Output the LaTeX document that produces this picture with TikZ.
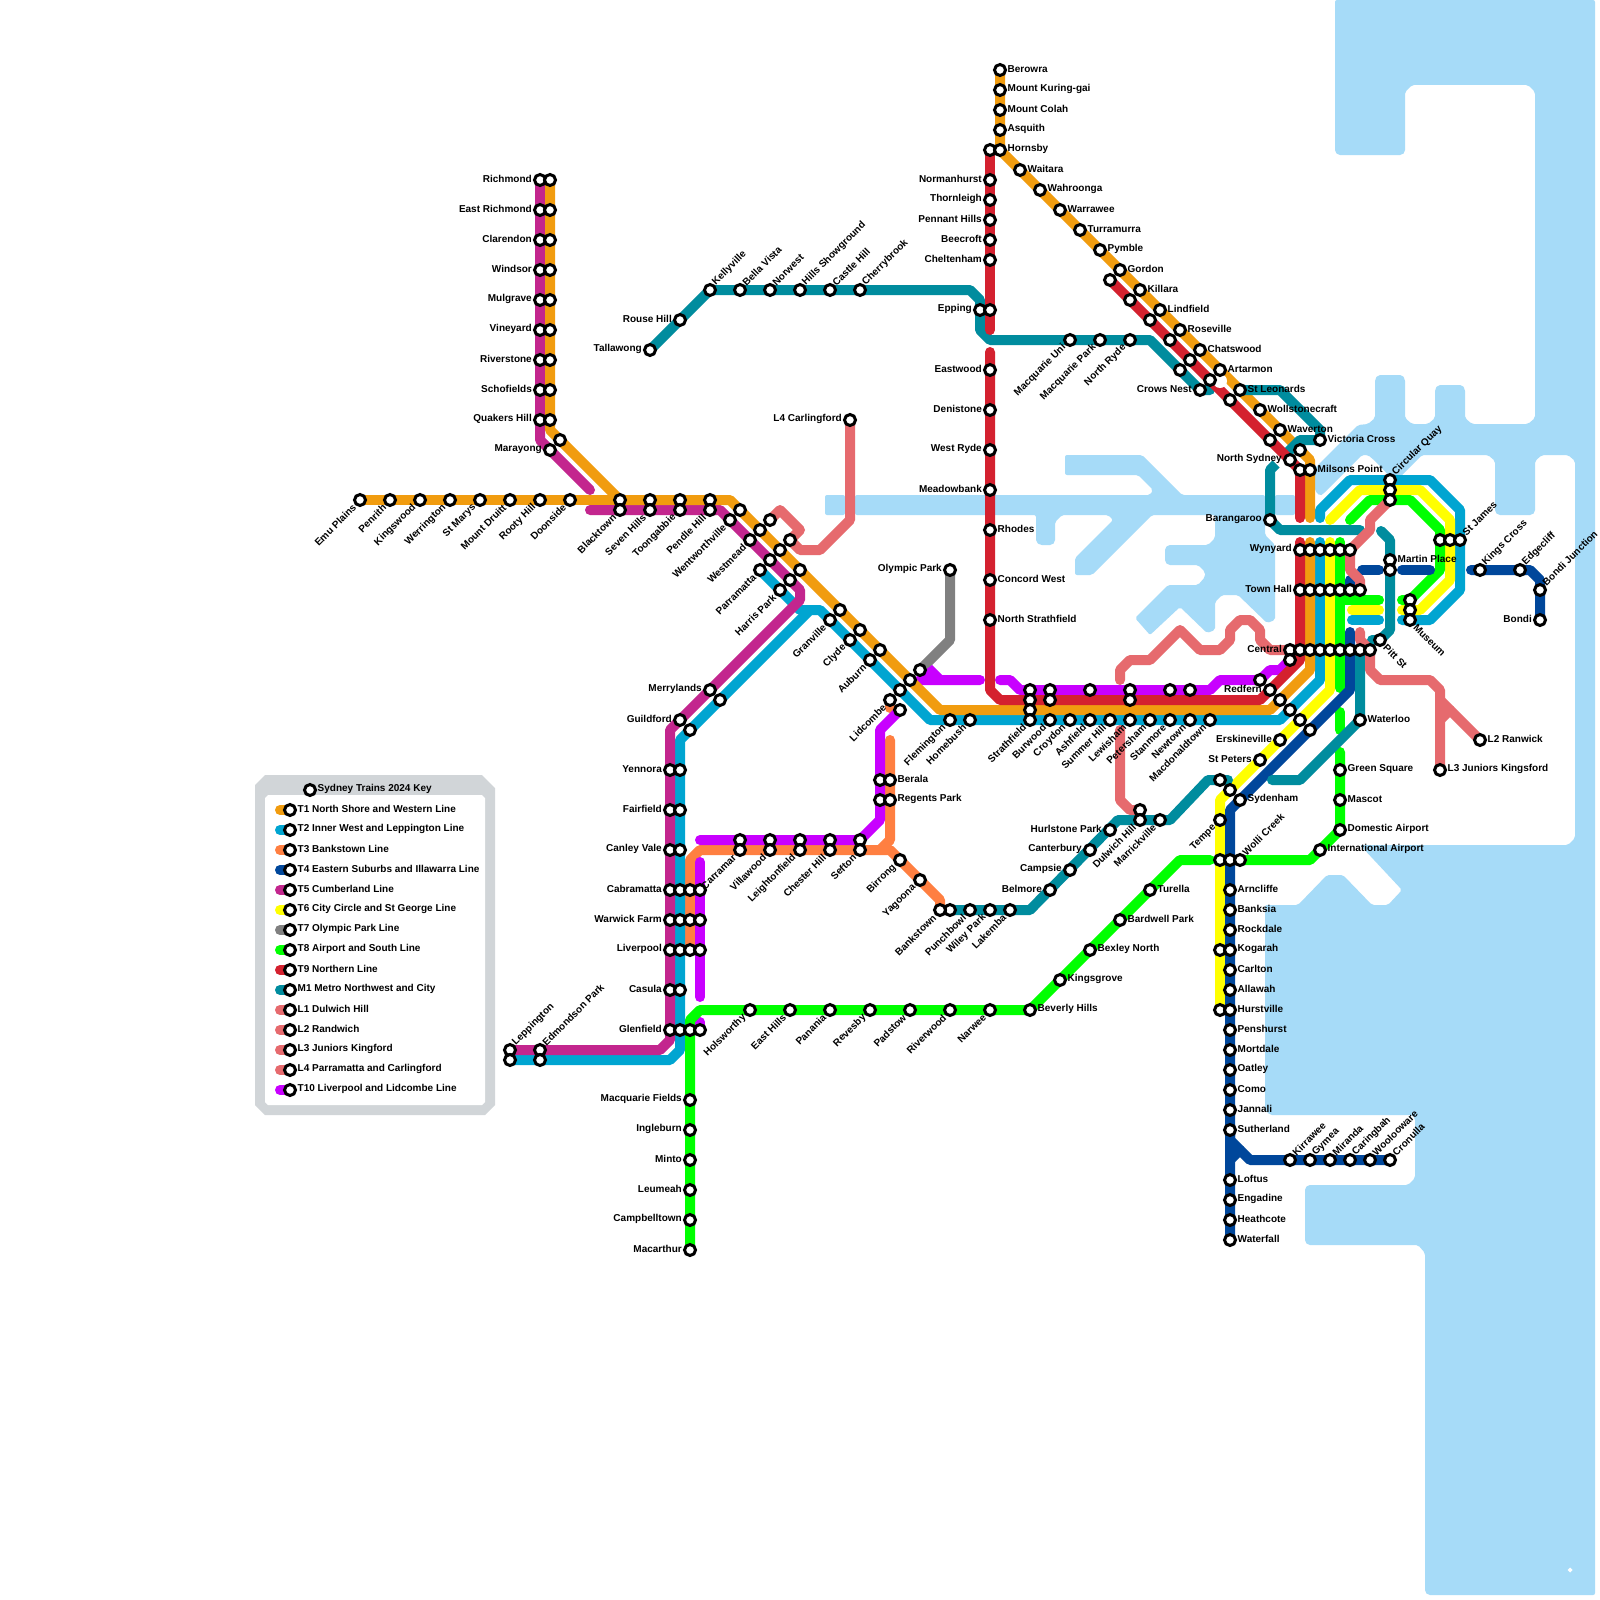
\documentclass[tikz,border=0pt]{standalone}
\usepackage{fontspec}
\setmainfont{Liberation Sans}
\definecolor{cT1}{HTML}{F19C0F}
\definecolor{cT2}{HTML}{00A5D1}
\definecolor{cT3}{HTML}{FF7F41}
\definecolor{cT4}{HTML}{00479B}
\definecolor{cT5}{HTML}{C3268E}
\definecolor{cT6}{HTML}{FFFF00}
\definecolor{cT7}{HTML}{808080}
\definecolor{cT8}{HTML}{00FF00}
\definecolor{cT9}{HTML}{D4212F}
\definecolor{cM1}{HTML}{008C9E}
\definecolor{cLL}{HTML}{E66A6E}
\definecolor{cTX}{HTML}{C800FF}
\definecolor{cWater}{HTML}{A6DBF8}
\definecolor{cKey}{HTML}{D1D5D8}
\pgfdeclarelayer{waterlayer}
\pgfdeclarelayer{linelayer}
\pgfsetlayers{waterlayer,linelayer,main}
\tikzset{
  stn/.style={circle,draw=black,fill=white,line width=3pt,minimum size=11pt,inner sep=0pt},
  lb/.style={inner sep=0pt,font=\fontsize{10}{12}\selectfont\bfseries,text=black},
  lbR/.style={lb,anchor=west},
  lbL/.style={lb,anchor=east},
  lbU/.style={lb,anchor=west,rotate=45},
  lbD/.style={lb,anchor=east,rotate=45},
  lbE/.style={lb,anchor=west,rotate=-45},
  rail/.style={line width=10pt,line cap=round,line join=round},
  waterpart/.style={fill=cWater,rounded corners=2pt},
}
\newcommand{\sN}[3]{\node[stn] (#1) at (#2,#3) {};}
\newcommand{\sR}[4]{\node[stn] (#1) at (#2,#3) {};\node[lbR] (#1t) at ([xshift=7.5pt,yshift=0.8pt]#1.center) {#4};}
\newcommand{\sL}[4]{\node[stn] (#1) at (#2,#3) {};\node[lbL] (#1t) at ([xshift=-8pt,yshift=0.8pt]#1.center) {#4};}
\newcommand{\sU}[4]{\node[stn] (#1) at (#2,#3) {};\node[lbU] (#1t) at ([xshift=4pt,yshift=6pt]#1.center) {#4};}
\newcommand{\sD}[4]{\node[stn] (#1) at (#2,#3) {};\node[lbD] (#1t) at ([xshift=-5.5pt,yshift=-6pt]#1.center) {#4};}
\newcommand{\sE}[4]{\node[stn] (#1) at (#2,#3) {};\node[lbE] (#1t) at ([xshift=5pt,yshift=-6pt]#1.center) {#4};}
\begin{document}
\begin{tikzpicture}[x=1pt,y=-1pt]
\useasboundingbox (0,0) rectangle (1600,1600);
% ---------- water
\begin{pgfonlayer}{waterlayer}
\fill[white] (0,0) rectangle (1600,1600);
\fill[waterpart] (1335,0) -- (1595,0) -- (1595,1595) -- (1428,1595) -- (1425,1592) -- (1425,1253) -- (1418,1245) -- (1308,1245) -- (1305,1242) -- (1305,1188) -- (1308,1185) -- (1408,1185) -- (1415,1178) -- (1415,1118) -- (1412,1115) -- (1270,1115) -- (1265,1110) -- (1265,905) -- (1298,905) -- (1327,875) -- (1343,875) -- (1372,905) -- (1388,905) -- (1402,890) -- (1360,845) -- (1568,845) -- (1575,838) -- (1575,461) -- (1568,455) -- (1542,455) -- (1535,461) -- (1535,512) -- (1532,515) -- (1498,515) -- (1495,512) -- (1495,461) -- (1488,455) -- (1422,455) -- (1395,482) -- (1375,461) -- (1368,455) -- (1362,455) -- (1323,494) -- (1320,496) -- (1315,491) -- (1315,468) -- (1358,425) -- (1368,424) -- (1375,418) -- (1375,379) -- (1378,375) -- (1402,375) -- (1405,379) -- (1405,418) -- (1412,424) -- (1428,424) -- (1435,418) -- (1435,389) -- (1438,385) -- (1462,385) -- (1465,389) -- (1465,418) -- (1472,424) -- (1528,424) -- (1535,418) -- (1535,92) -- (1528,85) -- (1412,85) -- (1405,92) -- (1405,152) -- (1402,155) -- (1338,155) -- (1335,152) -- cycle;
\fill[waterpart] (1065,455) -- (1142,455) -- (1182,495) -- (1265,495) -- (1265,535) -- (1275,545) -- (1275,620) -- (1267,623) -- (1238,595) -- (1222,595) -- (1215,602) -- (1215,630) -- (1207,633) -- (1180,607) -- (1150,635) -- (1135,618) -- (1168,585) -- (1198,585) -- (1205,577) -- (1205,572) -- (1198,565) -- (1168,565) -- (1165,562) -- (1165,548) -- (1168,545) -- (1208,545) -- (1215,538) -- (1215,515) -- (1152,515) -- (1092,575) -- (1075,575) -- (1075,558) -- (1113,520) -- (1108,515) -- (1062,515) -- (1055,522) -- (1055,542) -- (1052,545) -- (1040,545) -- (1036,542) -- (1036,515) -- (855,515) -- (855,495) -- (1150,495) -- (1153,490) -- (1138,475) -- (1065,475) -- cycle;
\fill[waterpart] (825,495) rectangle (845,515);
\fill[waterpart] (1275,495) rectangle (1295,515);
\fill[white] (1570,1567.5) -- (1572.5,1570) -- (1570,1572.5) -- (1567.5,1570) -- cycle;
% ---------- key panel
\fill[cKey] (255,785) -- (265,775) -- (482,775) -- (495,788) -- (495,1105) -- (485,1115) -- (265,1115) -- (255,1105) -- cycle;
\fill[white] (265,798) -- (268,795) -- (482,795) -- (485,798) -- (485,1102) -- (482,1105) -- (268,1105) -- (265,1102) -- cycle;
\end{pgfonlayer}
% ---------- stations
% Richmond branch
\sL{ric}{540}{180}{Richmond}\sN{rica}{550}{180}
\sL{eri}{540}{210}{East Richmond}\sN{eria}{550}{210}
\sL{cla}{540}{240}{Clarendon}\sN{claa}{550}{240}
\sL{win}{540}{270}{Windsor}\sN{wina}{550}{270}
\sL{mul}{540}{300}{Mulgrave}\sN{mula}{550}{300}
\sL{vin}{540}{330}{Vineyard}\sN{vina}{550}{330}
\sL{riv}{540}{360}{Riverstone}\sN{riva}{550}{360}
\sL{sch}{540}{390}{Schofields}\sN{scha}{550}{390}
\sL{qua}{540}{420}{Quakers Hill}\sN{quaa}{550}{420}
\sL{mar}{550}{450}{Marayong}\sN{mara}{560}{440}
% West
\sD{emu}{360}{500}{Emu Plains}\sD{prt}{390}{500}{Penrith}\sD{kgw}{420}{500}{Kingswood}\sD{wer}{450}{500}{Werrington}
\sD{stm}{480}{500}{St Marys}\sD{mdr}{510}{500}{Mount Druitt}\sD{roo}{540}{500}{Rooty Hill}\sD{doo}{570}{500}{Doonside}
\sN{blta}{620}{500}\sD{blt}{620}{510}{Blacktown}
\sN{seva}{650}{500}\sD{sev}{650}{510}{Seven Hills}
\sN{tooa}{680}{500}\sD{too}{680}{510}{Toongabbie}
\sN{phla}{710}{500}\sD{phl}{710}{510}{Pendle Hill}
\sN{wva}{740}{510}\sD{wvl}{730}{520}{Wentworthville}
\sN{wma}{760}{530}\sD{wmd}{750}{540}{Westmead}
\sN{pma}{780}{550}\sN{pmb}{770}{560}\sD{pmt}{760}{570}{Parramatta}
\sN{hpa}{800}{570}\sN{hpb}{790}{580}\sD{hpk}{780}{590}{Harris Park}
\sN{lfa}{770}{520}\sN{lfb}{790}{540}
\sN{gva}{840}{610}\sD{gvl}{830}{620}{Granville}
\sN{cya}{860}{630}\sD{cly}{850}{640}{Clyde}
\sN{aua}{880}{650}\sD{aub}{870}{660}{Auburn}
\sN{lia}{910}{680}\sN{lib}{900}{690}\sD{lid}{890}{700}{Lidcombe}\sN{lic}{900}{710}\sN{opa}{920}{670}
\sL{opk}{950}{570}{Olympic Park}
\sL{car}{850}{420}{L4 Carlingford}
\sD{fle}{950}{720}{Flemington}\sD{hom}{970}{720}{Homebush}
% Inner west
\sN{sta}{1030}{690}\sN{stb}{1030}{700}\sN{stc}{1030}{710}\sD{str}{1030}{720}{Strathfield}
\sN{bua}{1050}{690}\sN{bub}{1050}{700}\sD{bur}{1050}{720}{Burwood}
\sD{cro}{1070}{720}{Croydon}
\sN{asa}{1090}{690}\sD{ash}{1090}{720}{Ashfield}
\sD{sum}{1110}{720}{Summer Hill}
\sN{lea}{1130}{690}\sN{leb}{1130}{700}\sD{lew}{1130}{720}{Lewisham}
\sD{pet}{1150}{720}{Petersham}
\sN{saa}{1170}{690}\sD{stm2}{1170}{720}{Stanmore}
\sN{nea}{1190}{690}\sD{new}{1190}{720}{Newtown}
\sD{mac}{1210}{720}{Macdonaldtown}
% Metro NW
\sL{tal}{650}{350}{Tallawong}\sL{rou}{680}{320}{Rouse Hill}
\sU{kel}{710}{290}{Kellyville}\sU{bel}{740}{290}{Bella Vista}\sU{nor}{770}{290}{Norwest}
\sU{hil}{800}{290}{Hills Showground}\sU{cas}{830}{290}{Castle Hill}\sU{che}{860}{290}{Cherrybrook}
\sL{epa}{980}{310}{Epping}\sN{epb}{990}{310}
\sD{mqu}{1070}{340}{Macquarie Uni}\sD{mqp}{1100}{340}{Macquarie Park}\sD{nry}{1130}{340}{North Ryde}
\sN{mca}{1180}{370}\sL{crw}{1200}{390}{Crows Nest}
% T9 and T1 north
\sR{bew}{1000}{70}{Berowra}\sR{mkg}{1000}{90}{Mount Kuring-gai}\sR{mco}{1000}{110}{Mount Colah}\sR{asq}{1000}{130}{Asquith}
\sN{hoa}{990}{150}\sR{hor}{1000}{150}{Hornsby}
\sL{nmh}{990}{180}{Normanhurst}\sL{tho}{990}{200}{Thornleigh}\sL{pen}{990}{220}{Pennant Hills}\sL{bee}{990}{240}{Beecroft}\sL{chl}{990}{260}{Cheltenham}
\sL{eas}{990}{370}{Eastwood}\sL{den}{990}{410}{Denistone}\sL{wry}{990}{450}{West Ryde}\sL{mea}{990}{490}{Meadowbank}
\sR{rho}{990}{530}{Rhodes}\sR{con}{990}{580}{Concord West}\sR{nst}{990}{620}{North Strathfield}
\sR{wai}{1020}{170}{Waitara}\sR{wah}{1040}{190}{Wahroonga}\sR{waw}{1060}{210}{Warrawee}\sR{tur}{1080}{230}{Turramurra}
\sR{pym}{1100}{250}{Pymble}\sR{gor}{1120}{270}{Gordon}\sR{kil}{1140}{290}{Killara}\sR{lin}{1160}{310}{Lindfield}
\sR{ros}{1180}{330}{Roseville}\sR{cha}{1200}{350}{Chatswood}\sR{art}{1220}{370}{Artarmon}\sR{sle}{1240}{390}{St Leonards}
\sR{wol}{1260}{410}{Wollstonecraft}\sR{wav}{1280}{430}{Waverton}
\sN{ra}{1110}{280}\sN{rb}{1130}{300}\sN{rc}{1150}{320}\sN{rd}{1170}{340}\sN{re}{1190}{360}\sN{rf}{1210}{380}\sN{rg}{1230}{400}\sN{rh}{1270}{440}
\sL{nsy}{1290}{460}{North Sydney}\sN{nsa}{1300}{450}\sR{vic}{1320}{440}{Victoria Cross}
\sN{msa}{1300}{470}\sR{mil}{1310}{470}{Milsons Point}
\sL{bar}{1270}{520}{Barangaroo}
% CBD
\sL{wyn}{1300}{550}{Wynyard}\sN{wyb}{1310}{550}\sN{wyc}{1320}{550}\sN{wyd}{1330}{550}\sN{wye}{1340}{550}\sN{wyf}{1350}{550}
\sL{tow}{1300}{590}{Town Hall}\sN{thb}{1310}{590}\sN{thc}{1320}{590}\sN{thd}{1330}{590}\sN{the}{1340}{590}\sN{thf}{1350}{590}\sN{thg}{1360}{590}
\sL{cen}{1290}{650}{Central}\sN{cea}{1290}{660}\sN{ceb}{1300}{650}\sN{cec}{1310}{650}\sN{ced}{1320}{650}\sN{cee}{1330}{650}\sN{cef}{1340}{650}\sN{ceg}{1350}{650}\sN{ceh}{1360}{650}\sN{cei}{1370}{650}
\sE{pit}{1380}{640}{Pitt St}
\sR{mpl}{1390}{560}{Martin Place}\sN{mpa}{1390}{570}
\sU{cqu}{1390}{480}{Circular Quay}\sN{cqa}{1390}{490}\sN{cqb}{1390}{500}
\sN{jma}{1440}{540}\sN{jmb}{1450}{540}\sU{jam}{1460}{540}{St James}
\sN{mua}{1410}{600}\sN{mub}{1410}{610}\sE{mus}{1410}{620}{Museum}
\sU{kin}{1480}{570}{Kings Cross}\sU{edg}{1520}{570}{Edgecliff}\sU{bjn}{1540}{590}{Bondi Junction}\sL{bon}{1540}{620}{Bondi}
\sR{ran}{1480}{740}{L2 Ranwick}\sR{jun}{1440}{770}{L3 Juniors Kingsford}
\sR{wat}{1360}{720}{Waterloo}
\sN{rda}{1260}{680}\sL{red}{1270}{690}{Redfern}\sN{dba}{1280}{700}\sN{dbb}{1290}{710}\sN{dbc}{1300}{720}\sN{dbd}{1310}{730}
\sL{ers}{1280}{740}{Erskineville}\sL{spe}{1260}{760}{St Peters}
\sN{syc}{1220}{780}\sN{syb}{1230}{790}\sR{syd}{1240}{800}{Sydenham}
\sD{tem}{1220}{820}{Tempe}
\sN{woa}{1220}{860}\sN{wob}{1230}{860}\sU{wok}{1240}{860}{Wolli Creek}
% Illawarra
\sR{arn}{1230}{890}{Arncliffe}\sR{ban}{1230}{910}{Banksia}\sR{roc}{1230}{930}{Rockdale}\sN{koa}{1220}{950}\sR{kog}{1230}{950}{Kogarah}
\sR{crl}{1230}{970}{Carlton}\sR{all}{1230}{990}{Allawah}\sN{hua}{1220}{1010}\sR{hur}{1230}{1010}{Hurstville}\sR{pnh}{1230}{1030}{Penshurst}
\sR{mor}{1230}{1050}{Mortdale}\sR{oat}{1230}{1070}{Oatley}\sR{com}{1230}{1090}{Como}\sR{jan}{1230}{1110}{Jannali}\sR{sut}{1230}{1130}{Sutherland}
\sR{lof}{1230}{1180}{Loftus}\sR{eng}{1230}{1200}{Engadine}\sR{hea}{1230}{1220}{Heathcote}\sR{wfl}{1230}{1240}{Waterfall}
\sU{kir}{1290}{1160}{Kirrawee}\sU{gym}{1310}{1160}{Gymea}\sU{mir}{1330}{1160}{Miranda}\sU{crb}{1350}{1160}{Caringbah}\sU{wlw}{1370}{1160}{Woolooware}\sU{cru}{1390}{1160}{Cronulla}
% Airport
\sR{grs}{1340}{770}{Green Square}\sR{mas}{1340}{800}{Mascot}\sR{dom}{1340}{830}{Domestic Airport}\sR{int}{1320}{850}{International Airport}
% Bankstown metro
\sN{bka}{950}{910}\sD{bkn}{940}{910}{Bankstown}\sD{pun}{970}{910}{Punchbowl}\sD{wil}{990}{910}{Wiley Park}\sD{lak}{1010}{910}{Lakemba}
\sL{blm}{1050}{890}{Belmore}\sL{cam}{1070}{870}{Campsie}\sL{cnt}{1090}{850}{Canterbury}\sL{hlp}{1110}{830}{Hurlstone Park}
\sN{dua}{1140}{810}\sD{dul}{1140}{820}{Dulwich Hill}\sD{mrv}{1160}{820}{Marrickville}
% T3 T10
\sD{yag}{920}{880}{Yagoona}\sD{bir}{900}{860}{Birrong}
\sN{bea}{880}{780}\sR{ber}{890}{780}{Berala}\sN{rga}{880}{800}\sR{rgp}{890}{800}{Regents Park}
\sN{sfa}{860}{840}\sD{sef}{860}{850}{Sefton}\sN{chb}{830}{840}\sD{chh}{830}{850}{Chester Hill}
\sN{lga}{800}{840}\sD{lgf}{800}{850}{Leightonfield}\sN{vla}{770}{840}\sD{vlw}{770}{850}{Villawood}\sN{cra}{740}{840}\sD{crm}{740}{850}{Carramar}
% South west
\sL{mry}{710}{690}{Merrylands}\sN{mrb}{720}{700}\sL{gui}{680}{720}{Guildford}\sN{gub}{690}{730}
\sL{yen}{670}{770}{Yennora}\sN{yeb}{680}{770}\sL{fai}{670}{810}{Fairfield}\sN{fab}{680}{810}\sL{cvl}{670}{850}{Canley Vale}\sN{cvb}{680}{850}
\sL{cab}{670}{890}{Cabramatta}\sN{caa}{680}{890}\sN{cac}{690}{890}\sN{cad}{700}{890}
\sL{wfm}{670}{920}{Warwick Farm}\sN{wfa}{680}{920}\sN{wfc}{690}{920}\sN{wfd}{700}{920}
\sL{lvp}{670}{950}{Liverpool}\sN{lva}{680}{950}\sN{lvc}{690}{950}\sN{lvd}{700}{950}
\sL{cau}{670}{990}{Casula}\sN{cab2}{680}{990}
\sL{gle}{670}{1030}{Glenfield}\sN{gla}{680}{1030}\sN{glc}{690}{1030}\sN{gld}{700}{1030}
\sU{lep}{510}{1050}{Leppington}\sN{lpa}{510}{1060}\sU{edm}{540}{1050}{Edmondson Park}\sN{eda}{540}{1060}
% T8
\sD{hol}{750}{1010}{Holsworthy}\sD{ehl}{790}{1010}{East Hills}\sD{pan}{830}{1010}{Panania}\sD{rev}{870}{1010}{Revesby}
\sD{pad}{910}{1010}{Padstow}\sD{rvw}{950}{1010}{Riverwood}\sD{nar}{990}{1010}{Narwee}\sR{bev}{1030}{1010}{Beverly Hills}
\sR{kgv}{1060}{980}{Kingsgrove}\sR{bex}{1090}{950}{Bexley North}\sR{bwp}{1120}{920}{Bardwell Park}\sR{tue}{1150}{890}{Turella}
\sL{mqf}{690}{1100}{Macquarie Fields}\sL{ing}{690}{1130}{Ingleburn}\sL{min}{690}{1160}{Minto}\sL{leu}{690}{1190}{Leumeah}\sL{cpb}{690}{1220}{Campbelltown}\sL{mth}{690}{1250}{Macarthur}
% Key
\sR{keyh}{310}{790}{Sydney Trains 2024 Key}
\foreach \n/\c/\y/\t in {ka/cT1/810/T1 North Shore and Western Line,kb/cT2/830/T2 Inner West and Leppington Line,kc/cT3/850/T3 Bankstown Line,kd/cT4/870/T4 Eastern Suburbs and Illawarra Line,ke/cT5/890/T5 Cumberland Line,kf/cT6/910/T6 City Circle and St George Line,kg/cT7/930/T7 Olympic Park Line,kh/cT8/950/T8 Airport and South Line,ki/cT9/970/T9 Northern Line,kj/cM1/990/M1 Metro Northwest and City,kk/cLL/1010/L1 Dulwich Hill,kl/cLL/1030/L2 Randwich,km/cLL/1050/L3 Juniors Kingford,kn/cLL/1070/L4 Parramatta and Carlingford,ko/cTX/1090/T10 Liverpool and Lidcombe Line}{
  \sR{\n}{290}{\y}{\t}
  \begin{pgfonlayer}{linelayer}
  \draw[rail,draw=\c] (\n.center) -- ++(-10,0);
  \end{pgfonlayer}
}
% ---------- lines
\begin{pgfonlayer}{linelayer}
% T7
\draw[rail,cT7] (opk.center) -- (950,640) -- (opa.center);
% T3
\draw[rail,cT3] (lid.center) -- (890,708);
\draw[rail,cT3] (lvc.center) -- (690,860) -- (700,850) -- (880,850) -- (890,840) -- (890,740);
\draw[rail,cT3] (880,850) -- (890,850) -- (940,900) -- (bkn.center);
% T10
\draw[rail,cTX] (700,840) -- (sfa.center) -- (880,820) -- (880,730) -- (lic.center);
\draw[rail,cTX] (700,862) -- (700,997);
\draw[rail,cTX] (700,1022) -- (gld.center);
\fill[cTX] (912,680) -- (932,665) -- (942,675) -- (980,675) -- (980,685) -- (917,685) -- cycle;
\draw[rail,cTX] (940,680) -- (980,680);
\draw[rail,cTX] (1000,680) -- (1010,680) -- (1020,690) -- (1210,690) -- (1220,680) -- (rda.center) -- (1270,670) -- (1280,670) -- (cea.center);
% T2
\draw[rail,cT2] (lpa.center) -- (670,1060) -- (680,1050) -- (680,740) -- (810,610) -- (820,610) -- (930,720) -- (1280,720) -- (1320,680) -- (1320,542);
\draw[rail,cT2] (pmt.center) -- (800,610) -- (810,610);
\draw[rail,cT2] (1320,518) -- (1320,510) -- (1350,480) -- (1430,480) -- (1460,510) -- (1460,590) -- (1430,620) -- (1402,620);
\draw[rail,cT2] (1379,620) -- (1352,620);
% T5
\draw[rail,cT5] (ric.center) -- (540,440) -- (590,490);
\draw[rail,cT5] (lep.center) -- (660,1050) -- (670,1040) -- (670,730) -- (800,600) -- (800,590) -- (720,510) -- (590,510);
% T6
\draw[rail,cT6] (hua.center) -- (1220,800) -- (1330,690) -- (1330,542);
\draw[rail,cT6] (1330,520) -- (1360,490) -- (1420,490) -- (1450,520) -- (1450,580) -- (1420,610) -- (1402,610);
\draw[rail,cT6] (1379,610) -- (1352,610);
% T8
\draw[rail,cT8] (mth.center) -- (690,1020) -- (700,1010) -- (bev.center) -- (1180,860) -- (1210,860);
\draw[rail,cT8] (wok.center) -- (1310,860) -- (dom.center) -- (1340,752);
\draw[rail,cT8] (1340,730) -- (1340,712);
\draw[rail,cT8] (1340,688) -- (1340,542);
\draw[rail,cT8] (1350,520) -- (1370,500) -- (1410,500) -- (1440,530) -- (1440,570) -- (1410,600) -- (1402,600);
\draw[rail,cT8] (1379,600) -- (1340,600);
% T4
\draw[rail,cT4] (wfl.center) -- (1230,810) -- (1240,800) -- (1350,690) -- (1350,632);
\draw[rail,cT4] (sut.center) -- (1230,1140) -- (1250,1160) -- (cru.center);
\draw[rail,cT4] (1230,1160) -- (1240,1150);
\draw[rail,cT4] (1350,590) -- (1350,580);
\draw[rail,cT4] (1362,570) -- (1379,570);
\draw[rail,cT4] (1402,570) -- (1430,570);
\draw[rail,cT4] (1471,570) -- (1530,570) -- (1540,580) -- (bon.center);
% T1
\draw[rail,cT1] (rica.center) -- (550,430) -- (blta.center) -- (730,500) -- (940,710) -- (1270,710) -- (1310,670) -- (1310,542);
\draw[rail,cT1] (emu.center) -- (blta.center);
\draw[rail,cT1] (bew.center) -- (hor.center) -- (1310,460) -- (1310,518);
% M1
\draw[rail,cM1] (tal.center) -- (kel.center) -- (970,290) -- (980,300) -- (980,330) -- (990,340) -- (1150,340) -- (crw.center) -- (1210,390);
\draw[rail,cM1] (sle.center) -- (1280,390) -- (1320,430) -- (vic.center);
\draw[rail,cM1,line cap=butt] (vic.center) -- (1300,440) -- (1288,452);
\draw[rail,cM1,line cap=butt] (1276,464) -- (1270,470) -- (bar.center);
\draw[rail,cM1] (bar.center) -- (1280,530) -- (1360,530);
\draw[rail,cM1] (1381,531) -- (1390,540) -- (1390,630) -- (pit.center) -- (1372,640);
\draw[rail,cM1] (ceh.center) -- (wat.center) -- (1300,780) -- (1272,780);
\draw[rail,cM1] (1228,780) -- (1208,780) -- (1170,820) -- (1118,820) -- (1030,910) -- (bka.center);
% T9
\draw[rail,cT9] (hoa.center) -- (990,330);
\draw[rail,cT9] (990,352) -- (990,690) -- (1000,700) -- (1260,700) -- (1300,660) -- (1300,542);
\draw[rail,cT9] (ra.center) -- (1300,470) -- (1300,518);
\fill[white] (1220,381) circle (7);
% L lines
\draw[rail,cLL] (cen.center) -- (1270,650) -- (1260,640) -- (1260,630) -- (1250,620) -- (1240,620) -- (1230,630) -- (1230,640) -- (1220,650) -- (1200,650) -- (1180,630) -- (1150,660) -- (1130,660) -- (1120,670) -- (1120,680);
\draw[rail,cLL] (1120,730) -- (1120,800) -- (1130,810) -- (dua.center);
\draw[rail,cLL] (cqb.center) -- (1380,510) -- (1370,520) -- (1370,530) -- (1350,550) -- (1350,570) -- (1360,580) -- (1360,590);
\draw[rail,cLL] (1360,632) -- (1360,640) -- (1370,650) -- (1370,670) -- (1380,680) -- (1430,680) -- (1440,690) -- (jun.center);
\draw[rail,cLL] (1440,700) -- (ran.center);
\draw[rail,cLL] (1440,720) -- (1450,710);
\draw[rail,cLL] (car.center) -- (850,520) -- (820,550) -- (800,550) -- (lfb.center) -- (800,530) -- (780,510) -- (lfa.center);
\end{pgfonlayer}
\end{tikzpicture}
\end{document}
